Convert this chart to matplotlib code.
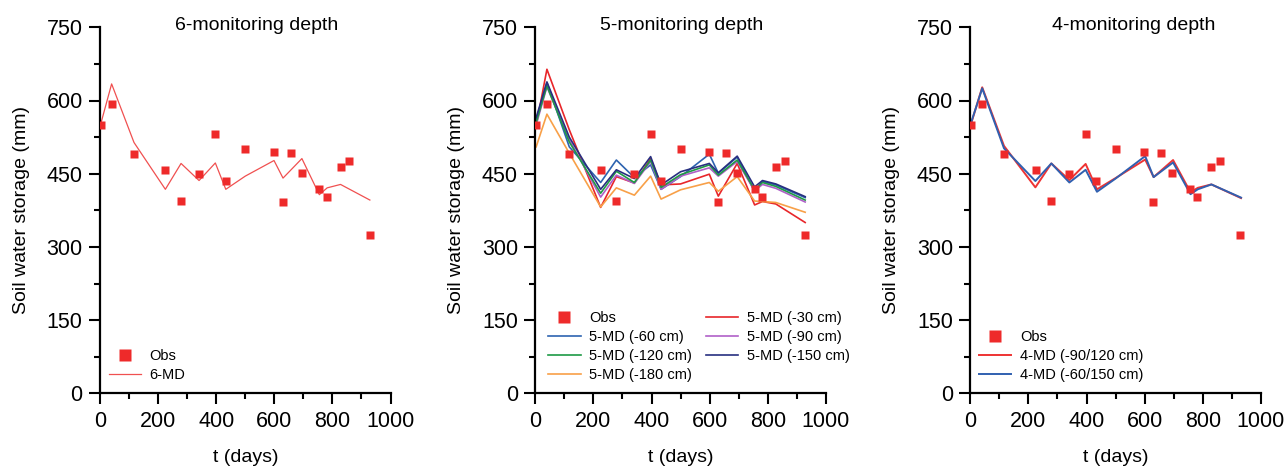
import matplotlib
matplotlib.use("Agg")
import matplotlib.pyplot as plt
from matplotlib.ticker import MultipleLocator

plt.rcParams['font.family'] = ['Liberation Sans', 'DejaVu Sans']

# ---- data ----
t_obs = [3, 40, 117, 225, 279, 341, 397, 433, 500, 599, 630, 657, 695, 755, 782, 828, 858, 929]
obs = [549, 592, 490, 458, 395, 449, 531, 435, 501, 494, 392, 493, 451, 419, 402, 463, 476, 324]

# panel 1 (6-MD)
t_md6 = [3, 40, 117, 225, 279, 341, 397, 433, 500, 599, 630, 695, 755, 782, 828, 929]
md6 = [553, 634, 514, 418, 471, 436, 472, 418, 445, 477, 441, 481, 407, 421, 428, 396]

# panel 2 (5-MD)
t_md5 = [3, 40, 117, 225, 279, 341, 397, 433, 500, 599, 630, 695, 755, 782, 828, 929]
md5_30 = [548, 664, 540, 381, 444, 431, 481, 427, 429, 449, 404, 471, 386, 393, 388, 350]
md5_60 = [560, 637, 505, 432, 478, 442, 468, 418, 444, 490, 451, 484, 413, 434, 427, 401]
md5_90 = [550, 628, 520, 402, 447, 430, 475, 418, 445, 462, 445, 475, 415, 428, 420, 392]
md5_120 = [555, 630, 515, 410, 455, 432, 478, 422, 448, 468, 447, 478, 417, 432, 424, 396]
md5_150 = [565, 638, 525, 418, 458, 440, 485, 427, 454, 471, 452, 486, 423, 436, 429, 403]
md5_180 = [505, 572, 492, 382, 421, 406, 445, 398, 417, 432, 414, 444, 394, 393, 391, 371]

# panel 3 (4-MD)
t_md4 = [3, 41, 116, 224, 279, 341, 397, 436, 500, 602, 631, 698, 758, 783, 830, 932]
md4_90_120 = [553, 627, 507, 422, 471, 437, 470, 418, 441, 479, 443, 478, 412, 421, 428, 400]
md4_60_150 = [555, 625, 502, 435, 471, 432, 458, 413, 440, 486, 443, 473, 408, 418, 428, 401]

OBS_C = '#ee2a2a'

fig = plt.figure(figsize=(12.85, 4.70), dpi=100)
W, H = 1285, 470
bottom = 1 - 393.3 / H
height = 366 / H
width = 290.5 / W
lefts = [100 / W, 535.3 / W, 970.3 / W]
axes = [fig.add_axes([l, bottom, width, height]) for l in lefts]

titles = ['6-monitoring depth', '5-monitoring depth', '4-monitoring depth']
title_x = [539, 502, 564]

for ax, title, tx in zip(axes, titles, title_x):
    ax.set_xlim(0, 1000)
    ax.set_ylim(0, 750)
    ax.spines['top'].set_visible(False)
    ax.spines['right'].set_visible(False)
    for s in ['left', 'bottom']:
        ax.spines[s].set_linewidth(1.6)
    ax.xaxis.set_major_locator(MultipleLocator(200))
    ax.xaxis.set_minor_locator(MultipleLocator(100))
    ax.yaxis.set_major_locator(MultipleLocator(150))
    ax.yaxis.set_minor_locator(MultipleLocator(75))
    ax.tick_params(which='major', direction='out', length=8, width=1.5, labelsize=15.5)
    ax.tick_params(axis='y', which='major', pad=4.5)
    ax.tick_params(axis='x', which='major', pad=5)
    ax.tick_params(which='minor', direction='out', length=4, width=1.5)
    ax.set_xlabel('t (days)', fontsize=14, labelpad=12)
    ax.set_ylabel('Soil water storage (mm)', fontsize=14, labelpad=12)
    ax.text(tx, 754, title, fontsize=14, ha='center', va='center', clip_on=False)

leg_kw = dict(frameon=False, fontsize=10.5, markerscale=1.7, handlelength=2.2,
              labelspacing=0.35, handletextpad=0.6)

# panel 1
ax = axes[0]
ln6, = ax.plot(t_md6, md6, color='#f05050', lw=0.9, label='6-MD', zorder=2)
o1, = ax.plot(t_obs, obs, 's', color=OBS_C, ms=5.5, mec='none', label='Obs', zorder=3)
ax.legend([o1, ln6], ['Obs', '6-MD'], loc='lower left', bbox_to_anchor=(-0.015, -0.005), **leg_kw)

# panel 2
ax = axes[1]
series5 = [
    (md5_30, '#e8262a', '5-MD (-30 cm)'),
    (md5_60, '#2d63b0', '5-MD (-60 cm)'),
    (md5_90, '#b060c8', '5-MD (-90 cm)'),
    (md5_120, '#1e9a45', '5-MD (-120 cm)'),
    (md5_150, '#283080', '5-MD (-150 cm)'),
    (md5_180, '#f8a048', '5-MD (-180 cm)'),
]
lines5 = {}
for vals, c, lab in series5:
    ln, = ax.plot(t_md5, vals, color=c, lw=1.2, label=lab, zorder=2)
    lines5[lab] = ln
obs2, = ax.plot(t_obs, obs, 's', color=OBS_C, ms=5.5, mec='none', label='Obs', zorder=3)
order_l = ['Obs', '5-MD (-60 cm)', '5-MD (-120 cm)', '5-MD (-180 cm)',
           '5-MD (-30 cm)', '5-MD (-90 cm)', '5-MD (-150 cm)']
order_h = [obs2] + [lines5[k] for k in order_l[1:]]
ax.legend(order_h, order_l, ncol=2, loc='lower left', bbox_to_anchor=(0.0, -0.005),
          columnspacing=0.95, **leg_kw)

# panel 3
ax = axes[2]
l1, = ax.plot(t_md4, md4_90_120, color='#ee3333', lw=1.4, label='4-MD (-90/120 cm)', zorder=2)
l2, = ax.plot(t_md4, md4_60_150, color='#3060b0', lw=1.4, label='4-MD (-60/150 cm)', zorder=2)
o3, = ax.plot(t_obs, obs, 's', color=OBS_C, ms=5.5, mec='none', label='Obs', zorder=3)
ax.legend([o3, l1, l2], ['Obs', '4-MD (-90/120 cm)', '4-MD (-60/150 cm)'],
          loc='lower left', bbox_to_anchor=(-0.015, -0.005), **leg_kw)

fig.savefig('out.png', dpi=100)
